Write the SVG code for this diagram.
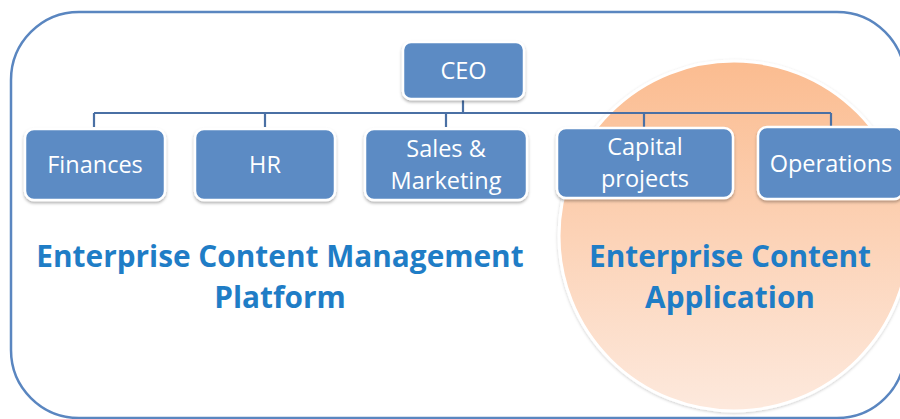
<svg xmlns="http://www.w3.org/2000/svg" width="900" height="419" viewBox="0 0 900 419">
<defs>
<linearGradient id="orange" x1="0" y1="0" x2="0" y2="1">
<stop offset="0" stop-color="#FBBC90"/>
<stop offset="1" stop-color="#FDE9DD"/>
</linearGradient>
<filter id="sh" x="-10%" y="-10%" width="120%" height="130%">
<feDropShadow dx="0" dy="2" stdDeviation="1.5" flood-color="#000" flood-opacity="0.3"/>
</filter>
<filter id="csh" x="-10%" y="-10%" width="120%" height="120%">
<feDropShadow dx="0" dy="1" stdDeviation="1.5" flood-color="#000" flood-opacity="0.2"/>
</filter>
</defs>
<style>
.box{fill:#5B8BC4;stroke:#fff;stroke-width:2.5;filter:url(#sh)}
.lbl{fill:#fff;font-family:"Open Sans","Liberation Sans",sans-serif;font-size:23.5px;text-anchor:middle}
.big{fill:#1F7DC6;font-family:"Open Sans","Liberation Sans",sans-serif;font-size:29.8px;font-weight:bold;text-anchor:middle}
.conn{fill:none;stroke:#4A70A4;stroke-width:2.2}
</style>
<rect id="frame" x="11" y="12" width="894" height="406" rx="68" fill="none" stroke="#5A86C0" stroke-width="2.5"/>
<circle id="app-circle" cx="734" cy="236" r="175" fill="url(#orange)" stroke="#fff" stroke-width="3" filter="url(#csh)"/>
<g id="connectors">
<path class="conn" d="M463 99V113M94 113H831M94 113V127M265 113V127M446 113V127M644 113V127M831 113V127"/>
</g>
<g id="ceo"><rect class="box" x="403" y="42" width="121" height="57" rx="8"/><text class="lbl" x="463.5" y="79">CEO</text></g>
<g id="finances"><rect class="box" x="25" y="129" width="140" height="71" rx="9"/><text class="lbl" x="95" y="173">Finances</text></g>
<g id="hr"><rect class="box" x="195" y="129" width="140" height="71" rx="9"/><text class="lbl" x="265" y="173">HR</text></g>
<g id="sales"><rect class="box" x="365" y="129" width="162" height="71" rx="9"/><text class="lbl" x="446" y="157">Sales &amp;</text><text class="lbl" x="446" y="189">Marketing</text></g>
<g id="capital"><rect class="box" x="557" y="128" width="176" height="70" rx="9"/><text class="lbl" x="645" y="155">Capital</text><text class="lbl" x="645" y="187">projects</text></g>
<g id="operations"><rect class="box" x="758" y="127" width="145" height="72" rx="9"/><text class="lbl" x="831" y="172">Operations</text></g>
<g id="labels">
<text class="big" x="280" y="267">Enterprise Content Management</text>
<text class="big" x="280" y="308">Platform</text>
<text class="big" x="730" y="267">Enterprise Content</text>
<text class="big" x="730" y="308">Application</text>
</g>
</svg>
